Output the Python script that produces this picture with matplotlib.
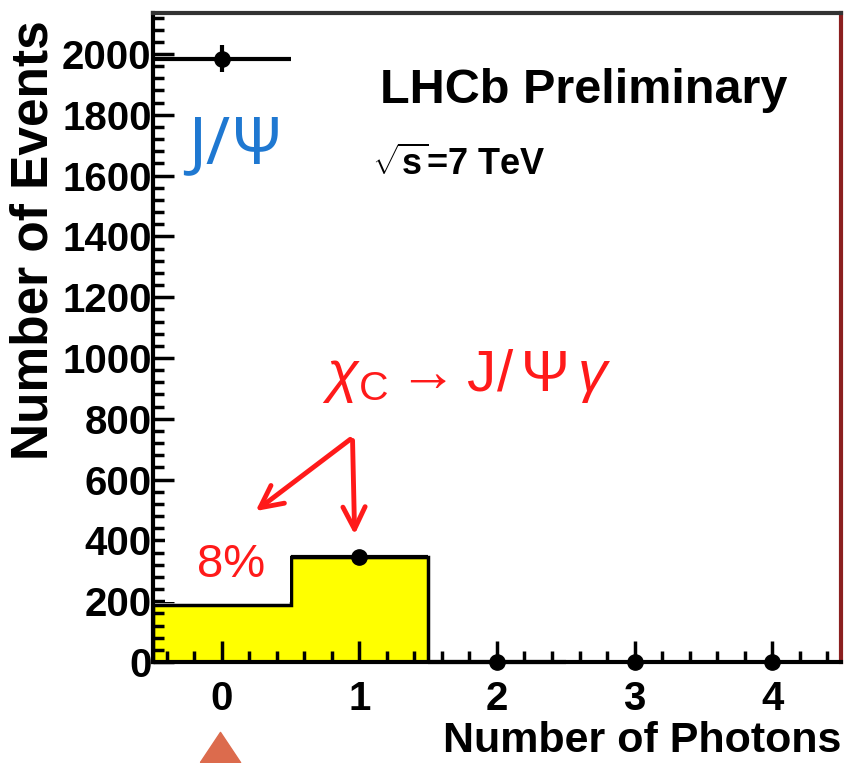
import numpy as np
import matplotlib
matplotlib.use("Agg")
import matplotlib.pyplot as plt
from matplotlib.lines import Line2D
from matplotlib.patches import Rectangle
from matplotlib.ticker import MultipleLocator

# données
edges = [-0.5, 0.5, 1.5, 2.5, 3.5, 4.5]
hist_chic = [188, 346, 0, 0, 0]          # histogramme jaune (chi_c)
n_photons = [0, 1, 2, 3, 4]
n_events = [1985, 346, 0, 0, 0]          # points de données
err_x = [0.5, 0.5, 0.5, 0, 0]
err_y = [44, 19, 0, 0, 0]
y_ticks = [0, 200, 400, 600, 800, 1000, 1200, 1400, 1600, 1800, 2000]
x_ticks = [0, 1, 2, 3, 4]

plt.rcParams['font.family'] = ['Liberation Sans', 'DejaVu Sans']
plt.rcParams['mathtext.fontset'] = 'custom'
plt.rcParams['mathtext.rm'] = 'Liberation Sans'
plt.rcParams['mathtext.it'] = 'Liberation Sans:italic'
plt.rcParams['mathtext.bf'] = 'Liberation Sans:bold'

fig = plt.figure(figsize=(8.48, 7.63), dpi=100)
ax = fig.add_axes([0.1804, 0.1324, 0.8113, 0.8506])

# histogramme
ax.stairs(hist_chic, edges, fill=True, color='#ffff00', zorder=1)
ax.stairs(hist_chic, edges, color='black', linewidth=2.5, zorder=2)

# cache blanc derrière le texte 8%
ax.add_patch(Rectangle((0.0174, 0.0925), 0.182, 0.10, transform=ax.transAxes,
                       facecolor='white', edgecolor='none', zorder=3))

# points de données
ax.errorbar(n_photons, n_events, xerr=err_x, yerr=err_y, fmt='o', color='black',
            markersize=11, elinewidth=3, capsize=0, zorder=5, clip_on=False)

ax.set_xlim(-0.5, 4.5)
ax.set_ylim(0, 2135)
ax.set_xticks(x_ticks)
ax.set_yticks(y_ticks)
ax.xaxis.set_minor_locator(MultipleLocator(0.2))
ax.yaxis.set_minor_locator(MultipleLocator(40))
ax.tick_params(axis='both', which='both', direction='in', top=False, right=False, width=2.5)
ax.tick_params(axis='both', which='major', length=15, labelsize=29)
ax.tick_params(axis='both', which='minor', length=8)
ax.tick_params(axis='y', which='major', pad=1)
ax.tick_params(axis='x', which='major', pad=13)
for lab in ax.get_xticklabels() + ax.get_yticklabels():
    lab.set_fontweight('bold')

for side in ['left', 'bottom', 'top']:
    ax.spines[side].set_linewidth(3)
    ax.spines[side].set_color('black')
ax.spines['top'].set_color('#333333')
ax.spines['right'].set_linewidth(3)
ax.spines['right'].set_color('#8b1f1f')

ax.set_ylabel('Number of Events', fontsize=37, fontweight='bold')
ax.yaxis.set_label_coords(-0.138, 0.65)
ax.set_xlabel('Number of Photons', fontsize=31, fontweight='bold', loc='right', labelpad=2)

# textes
ax.text(0.33, 0.881, 'LHCb Preliminary', transform=ax.transAxes, fontsize=35,
        fontweight='bold', va='center', ha='left')
ax.text(0.318, 0.766, r'$\mathbf{\sqrt{s}}$=7 TeV', transform=ax.transAxes, fontsize=26,
        fontweight='bold', va='center', ha='left')
ax.text(0.051, 0.795, 'J/Ψ', transform=ax.transAxes, fontsize=47, color='#1f78d1',
        va='center', ha='left', family=['Noto Sans', 'DejaVu Sans'])
ax.text(0.246, 0.44, r'$\chi_{\mathrm{C}}\rightarrow \mathrm{J}/\,\Psi\,\gamma$',
        transform=ax.transAxes, fontsize=42, color='#ff1a1a', va='center', ha='left')
ax.text(0.113, 0.15, '8%', transform=ax.transAxes, fontsize=34, color='#ff1a1a',
        va='center', ha='center', zorder=4)

# flèches rouges
arrow = dict(arrowstyle='->', color='#ff1a1a', lw=3.5, mutation_scale=40)
ax.annotate('', xy=(0.23, 491), xytext=(0.95, 738), arrowprops=arrow)
ax.annotate('', xy=(0.966, 410), xytext=(0.95, 738), arrowprops=arrow)

# triangle orange sous le 0
tri = [(-1, -0.75), (1, -0.75), (0, 0.75), (-1, -0.75)]
fig.add_artist(Line2D([220 / 848], [16 / 763], marker=tri, markersize=29, linestyle='none',
                      color='#dc6b4d', transform=fig.transFigure))

plt.savefig('out.png', dpi=100)
plt.close()
